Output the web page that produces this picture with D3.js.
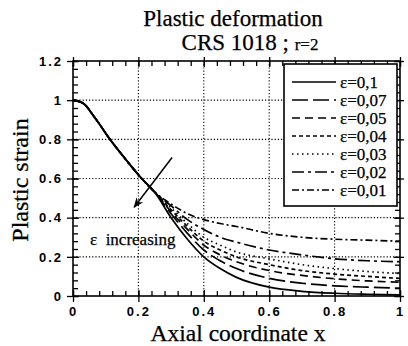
<!DOCTYPE html>
<html>
<head>
<meta charset="utf-8">
<script src="https://cdn.jsdelivr.net/npm/d3@7"></script>
<style>
  body { margin: 0; background: #fff; }
  .serif { font-family: "Liberation Serif", "Times New Roman", serif; fill: #000; stroke: #000; stroke-width: 0.25; }
  .tick text { font-family: "Liberation Sans", Arial, sans-serif; font-weight: bold; font-size: 13px; letter-spacing: 2px; fill: #000; }
</style>
</head>
<body>
<svg id="chart" width="408" height="346"></svg>
<script>
// Shared start of every curve (all series coincide here).
const xCommon = [0, 0.03, 0.067, 0.113, 0.16, 0.21, 0.25];
const yCommon = [1, 0.985, 0.91, 0.80, 0.70, 0.60, 0.53];

// Where the curves fan out.
const xTail = [0.3, 0.35, 0.4, 0.45, 0.5, 0.6, 0.7, 0.8, 0.9, 1.0];
const epsLabels = ["ε=0,1", "ε=0,07", "ε=0,05", "ε=0,04", "ε=0,03", "ε=0,02", "ε=0,01"];
const tail01  = [0.40, 0.29, 0.20, 0.14, 0.095, 0.045, 0.024, 0.014, 0.009, 0.006];
const tail007 = [0.42, 0.32, 0.235, 0.18, 0.14, 0.09, 0.065, 0.052, 0.045, 0.04];
const tail005 = [0.43, 0.34, 0.26, 0.21, 0.175, 0.13, 0.105, 0.088, 0.077, 0.07];
const tail004 = [0.44, 0.355, 0.28, 0.235, 0.20, 0.16, 0.13, 0.112, 0.10, 0.09];
const tail003 = [0.45, 0.37, 0.30, 0.26, 0.225, 0.19, 0.16, 0.14, 0.125, 0.115];
const tail002 = [0.46, 0.39, 0.34, 0.30, 0.275, 0.235, 0.21, 0.19, 0.18, 0.175];
const tail001 = [0.47, 0.42, 0.39, 0.37, 0.355, 0.32, 0.30, 0.29, 0.285, 0.28];
const tails = [tail01, tail007, tail005, tail004, tail003, tail002, tail001];
const dashes = ["none", "16,5", "8,5", "4,3", "1.5,3.5", "12,4,3,4", "7,3,2,3"];

const xMajor = [0, 0.2, 0.4, 0.6, 0.8, 1];
const yMajor = [0, 0.2, 0.4, 0.6, 0.8, 1, 1.2];
const xMinor = d3.range(0, 1.0001, 0.04);
const yMinor = d3.range(0, 1.2001, 0.04);

const svg = d3.select("#chart");
const mLeft = 73, mRight = 400, mTop = 61, mBottom = 296;

const x = d3.scaleLinear().domain([0, 1]).range([mLeft, mRight]);
const y = d3.scaleLinear().domain([0, 1.2]).range([mBottom, mTop]);

// Grid (dotted).
const grid = svg.append("g").attr("stroke", "#000").attr("stroke-dasharray", "1.2,2").attr("stroke-width", 1.1);
grid.selectAll("line.gx").data(xMajor.slice(1, -1)).join("line")
  .attr("x1", d => x(d)).attr("x2", d => x(d)).attr("y1", mTop).attr("y2", mBottom);
grid.selectAll("line.gy").data(yMajor.slice(1, -1)).join("line")
  .attr("x1", mLeft).attr("x2", mRight).attr("y1", d => y(d)).attr("y2", d => y(d));

// Curves.
const line = d3.line().x(d => x(d[0])).y(d => y(d[1])).curve(d3.curveMonotoneX);
const series = tails.map(t => xCommon.map((v, i) => [v, yCommon[i]]).concat(xTail.map((v, i) => [v, t[i]])));
svg.append("g").selectAll("path").data(series).join("path")
  .attr("d", line)
  .attr("fill", "none")
  .attr("stroke", "#000")
  .attr("stroke-width", 1.7)
  .attr("stroke-dasharray", (d, i) => dashes[i]);

// Frame and ticks.
svg.append("rect").attr("x", mLeft).attr("y", mTop).attr("width", mRight - mLeft).attr("height", mBottom - mTop)
  .attr("fill", "none").attr("stroke", "#000").attr("stroke-width", 1.6);

function ticks(axis, g) {
  g.call(axis).call(s => s.select(".domain").remove());
  g.selectAll(".tick line").attr("stroke", "#000").attr("stroke-width", 1.3);
}
// inward minor ticks
ticks(d3.axisRight(y).tickValues(yMinor).tickSize(5).tickFormat(""), svg.append("g").attr("transform", `translate(${mLeft},0)`));
ticks(d3.axisLeft(y).tickValues(yMinor).tickSize(5).tickFormat(""), svg.append("g").attr("transform", `translate(${mRight},0)`));
ticks(d3.axisTop(x).tickValues(xMinor).tickSize(5).tickFormat(""), svg.append("g").attr("transform", `translate(0,${mBottom})`));
ticks(d3.axisBottom(x).tickValues(xMinor).tickSize(5).tickFormat(""), svg.append("g").attr("transform", `translate(0,${mTop})`));
// major ticks crossing the frame
ticks(d3.axisRight(y).tickValues(yMajor).tickSize(6).tickFormat(""), svg.append("g").attr("transform", `translate(${mLeft},0)`));
ticks(d3.axisLeft(y).tickValues(yMajor).tickSize(6).tickFormat(""), svg.append("g").attr("transform", `translate(${mRight},0)`));
ticks(d3.axisTop(x).tickValues(xMajor).tickSize(6).tickFormat(""), svg.append("g").attr("transform", `translate(0,${mBottom})`));
ticks(d3.axisBottom(x).tickValues(xMajor).tickSize(6).tickFormat(""), svg.append("g").attr("transform", `translate(0,${mTop})`));
// outward majors with labels
ticks(d3.axisLeft(y).tickValues(yMajor).tickSize(6).tickPadding(4).tickFormat(d3.format("")), svg.append("g").attr("transform", `translate(${mLeft},0)`));
ticks(d3.axisBottom(x).tickValues(xMajor).tickSize(6).tickPadding(5).tickFormat(d3.format("")), svg.append("g").attr("transform", `translate(0,${mBottom})`));
ticks(d3.axisTop(x).tickValues(xMajor).tickSize(4).tickFormat(""), svg.append("g").attr("transform", `translate(0,${mTop})`));
ticks(d3.axisRight(y).tickValues(yMajor).tickSize(4).tickFormat(""), svg.append("g").attr("transform", `translate(${mRight},0)`));

// Arrow + annotation.
svg.append("defs").append("marker")
  .attr("id", "head").attr("viewBox", "0 0 10 10").attr("refX", 9).attr("refY", 5)
  .attr("markerWidth", 7).attr("markerHeight", 7).attr("orient", "auto")
  .append("path").attr("d", "M0,1L10,5L0,9L3,5Z").attr("fill", "#000");
svg.append("line")
  .attr("x1", x(0.303)).attr("y1", y(0.707)).attr("x2", x(0.187)).attr("y2", y(0.453))
  .attr("stroke", "#000").attr("stroke-width", 1.5).attr("marker-end", "url(#head)");
svg.append("text").attr("class", "serif").attr("x", x(0.052)).attr("y", y(0.26))
  .attr("font-size", 17).attr("xml:space", "preserve").text("ε  increasing");

// Legend.
const lg = svg.append("g");
lg.append("rect").attr("x", 284).attr("y", 64).attr("width", 113).attr("height", 142)
  .attr("fill", "#fff").attr("stroke", "#000").attr("stroke-width", 1.6);
const row = lg.selectAll("g.row").data(epsLabels).join("g")
  .attr("transform", (d, i) => `translate(0,${82 + i * 18})`);
row.append("line").attr("x1", 292).attr("x2", 336).attr("y1", 0).attr("y2", 0)
  .attr("stroke", "#000").attr("stroke-width", 1.5).attr("stroke-dasharray", (d, i) => dashes[i]);
row.append("text").attr("class", "serif").attr("x", 340).attr("y", 6).attr("font-size", 17).text(d => d);

// Titles.
svg.append("text").attr("class", "serif").attr("x", 233).attr("y", 26).attr("text-anchor", "middle")
  .attr("font-size", 23).text("Plastic deformation");
const sub = svg.append("text").attr("class", "serif").attr("x", 250).attr("y", 50).attr("text-anchor", "middle");
sub.append("tspan").attr("font-size", 23).text("CRS 1018 ; ");
sub.append("tspan").attr("font-size", 17).text("r=2");
svg.append("text").attr("class", "serif").attr("x", 238).attr("y", 341).attr("text-anchor", "middle")
  .attr("font-size", 23.5).text("Axial coordinate x");
svg.append("text").attr("class", "serif").attr("transform", "translate(28,180) rotate(-90)")
  .attr("text-anchor", "middle").attr("font-size", 24).text("Plastic strain");
</script>
</body>
</html>
